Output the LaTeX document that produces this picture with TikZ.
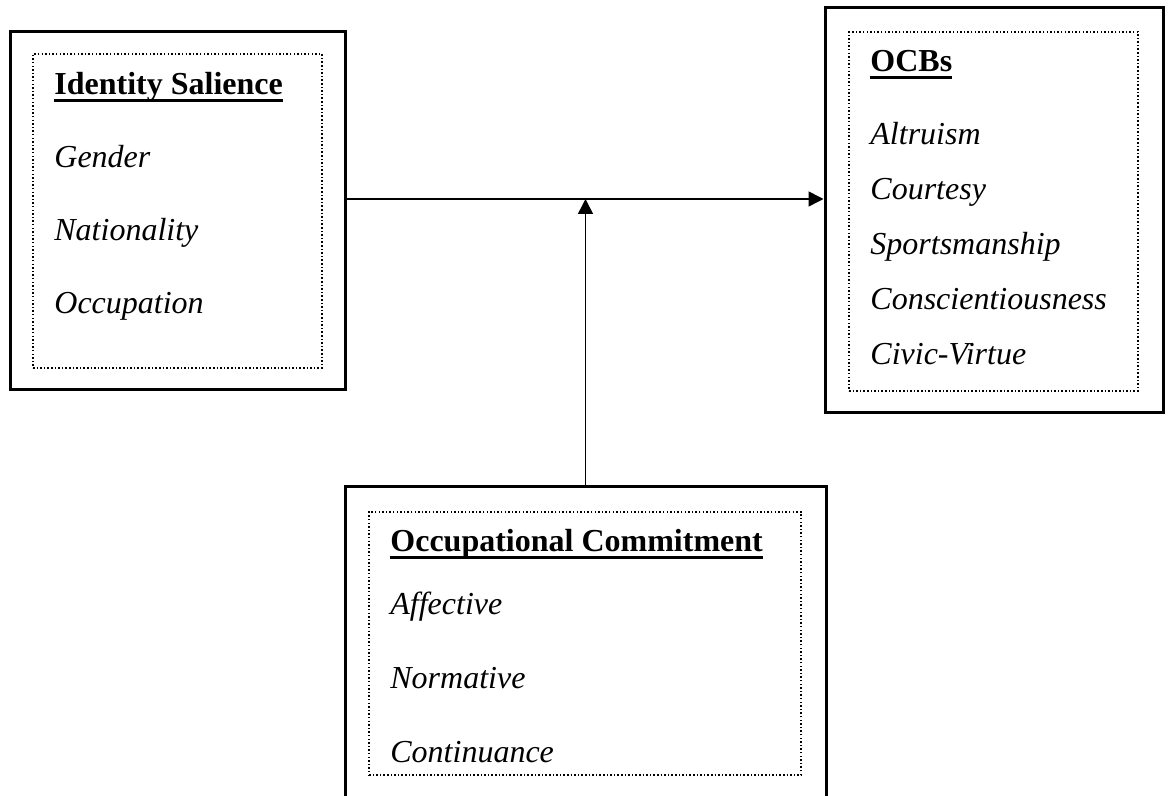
\documentclass[tikz,border=0pt]{standalone}
\usepackage{fontspec}
\setmainfont{Liberation Serif}
\usepackage{tikz}
\usetikzlibrary{positioning,arrows.meta,fit}

\newcommand{\ulhead}[1]{\setbox0\hbox{\textbf{#1}}\rlap{\rule[-3.6pt]{\wd0}{1.6pt}}\box0}

\begin{document}
\begin{tikzpicture}[
    x=0.5pt, y=-0.5pt,
    font=\fontsize{16}{19}\selectfont,
    outerbox/.style={rectangle, draw, line width=1.5pt, inner sep=0pt},
    innerbox/.style={rectangle, draw, line width=0.75pt, dash pattern=on 0.75pt off 1.05pt, inner sep=0pt},
    head/.style={anchor=base west, inner sep=0pt, text=black},
    item/.style={anchor=base west, inner sep=0pt, text=black, font=\fontsize{16}{19}\selectfont\itshape},
    arr/.style={-{Triangle[length=7.5pt, width=7.5pt]}, line width=0.75pt}
]
\clip (0,0) rectangle (1168,796);

% ============================================================
% BOXES
% ============================================================
\node[outerbox, fit={(10,32) (345,390)}]   (idbox)  {};
\node[innerbox, fit={(33,54) (322,368)}]   (idin)   {};

\node[outerbox, fit={(825,8) (1163,413)}]  (ocbbox) {};
\node[innerbox, fit={(849,32) (1138,391)}] (ocbin)  {};

\node[outerbox, fit={(345,487) (826,812)}] (occbox) {};
\node[innerbox, fit={(369,512) (801,775)}] (occin)  {};

% ============================================================
% TEXTS
% ============================================================
\node[head] (idhead) at (54,95) {\ulhead{Identity Salience}};
\node[item, below=36.5pt of idhead.base west, anchor=base west] (gender) {Gender};
\node[item, below=36.5pt of gender.base west, anchor=base west] (nation) {Nationality};
\node[item, below=36.5pt of nation.base west, anchor=base west] (occup)  {Occupation};

\node[head] (ocbhead) at (870,72) {\ulhead{OCBs}};
\node[item, below=36.5pt of ocbhead.base west, anchor=base west] (altru)  {Altruism};
\node[item, below=27.5pt of altru.base west, anchor=base west]   (court)  {Courtesy};
\node[item, below=27.5pt of court.base west, anchor=base west]   (sport)  {Sportsmanship};
\node[item, below=27.5pt of sport.base west, anchor=base west]   (consc)  {Conscientiousness};
\node[item, below=27.5pt of consc.base west, anchor=base west]   (civic)  {Civic-Virtue};

\node[head] (occhead) at (390,552) {\ulhead{Occupational Commitment}};
\node[item, below=31.5pt of occhead.base west, anchor=base west] (affect) {Affective};
\node[item, below=36.5pt of affect.base west, anchor=base west]  (norm)   {Normative};
\node[item, below=37pt of norm.base west, anchor=base west]      (contin) {Continuance};

% ============================================================
% CONNECTORS
% ============================================================
\coordinate (join) at (occbox.north |- 0,199);
\draw[arr] (idbox.east |- join) -- (ocbbox.west |- join);
\draw[arr] (occbox.north) -- (join);

\end{tikzpicture}
\end{document}
